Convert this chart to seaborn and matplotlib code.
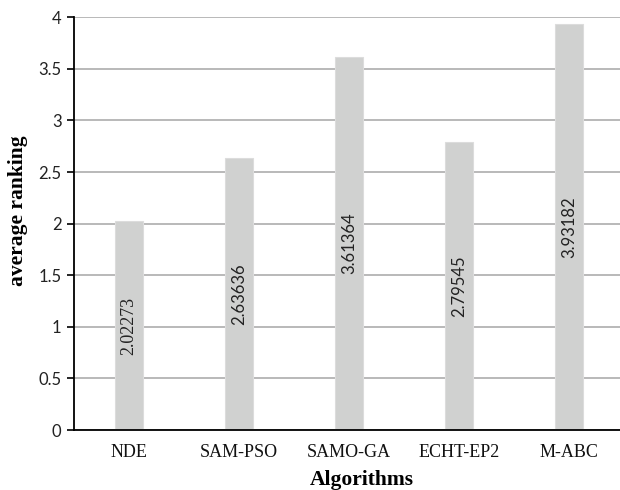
import matplotlib
matplotlib.use("Agg")
import matplotlib.pyplot as plt
import seaborn as sns
import pandas as pd

algorithms = ["NDE", "SAM-PSO", "SAMO-GA", "ECHT-EP2", "M-ABC"]
avg_ranking = [2.02273, 2.63636, 3.61364, 2.79545, 3.93182]
value_labels = ["2.02273", "2.63636", "3.61364", "2.79545", "3.93182"]
y_ticks = [0, 0.5, 1, 1.5, 2, 2.5, 3, 3.5, 4]
y_tick_labels = ["0", "0.5", "1", "1.5", "2", "2.5", "3", "3.5", "4"]

sns.set_theme(style="white")
plt.rcParams["font.family"] = ["Lato", "DejaVu Sans"]

df = pd.DataFrame({"Algorithms": algorithms, "average ranking": avg_ranking})

fig = plt.figure(figsize=(6.2, 4.9), dpi=100)
ax = fig.add_axes([74 / 620, 1 - 430 / 490, 550 / 620, (430 - 17.3) / 490])

sns.barplot(data=df, x="Algorithms", y="average ranking", ax=ax,
            color="#d0d1d0", saturation=1, width=0.255,
            edgecolor="#dcdcdc", linewidth=0.8, zorder=3)

ax.set_xlim(-0.5, 4.5)
ax.set_ylim(0, 4)
ax.set_yticks(y_ticks)
ax.set_yticklabels(y_tick_labels, fontsize=12, color="#222222")
ax.yaxis.grid(True, color="#b3b3b3", linewidth=1.3, zorder=0)
ax.set_axisbelow(True)

for s in ["top", "right"]:
    ax.spines[s].set_visible(False)
for s in ["left", "bottom"]:
    ax.spines[s].set_color("black")
    ax.spines[s].set_linewidth(1.3)
    ax.spines[s].set_zorder(4)

ax.tick_params(axis="y", which="major", left=True, length=5, width=1.2,
               color="black", pad=4)
ax.tick_params(axis="x", which="major", bottom=False, pad=4)
for lbl in ax.get_xticklabels():
    lbl.set_fontfamily(["Liberation Serif", "DejaVu Serif"])
    lbl.set_fontsize(13)
    lbl.set_color("#111111")

# value labels, rotated and centred inside each bar
for i, (v, txt) in enumerate(zip(avg_ranking, value_labels)):
    fam = ["Liberation Serif", "DejaVu Serif"] if i == 0 else ["Lato", "DejaVu Sans"]
    size = 13 if i == 0 else 12
    ax.text(i, v / 2, txt, rotation=90, ha="center", va="center",
            fontsize=size, family=fam, color="#222222", zorder=5)

ax.set_ylabel("average ranking", fontsize=15.5, fontweight="bold",
              family=["Liberation Serif", "DejaVu Serif"], color="black",
              va="center")
ax.set_xlabel("Algorithms", fontsize=15.5, fontweight="bold",
              family=["Liberation Serif", "DejaVu Serif"], color="black",
              va="center")
ax.yaxis.set_label_coords((18 - 74) / 550, (430 - 211) / (430 - 17.3))
ax.xaxis.set_label_coords((362 - 74) / 550, -(480 - 430) / (430 - 17.3))

fig.savefig("out.png", dpi=100)
